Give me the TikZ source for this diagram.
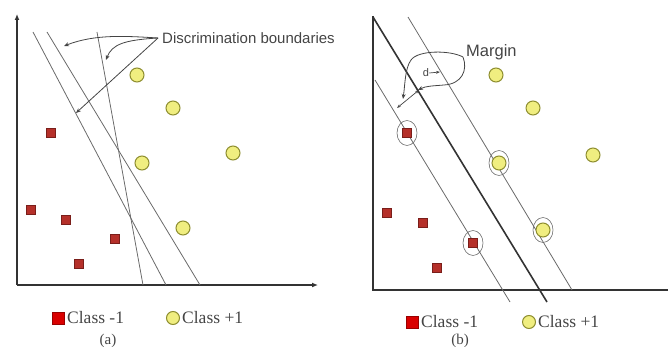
\documentclass[tikz,border=0pt]{standalone}
\usepackage{fontspec}
\setmainfont{Liberation Serif}
\newfontfamily\sansf{Liberation Sans}
\usetikzlibrary{arrows.meta}
\definecolor{sqred}{HTML}{B5302A}
\definecolor{sqedge}{HTML}{7A1E1A}
\definecolor{cyel}{HTML}{F0EE80}
\definecolor{cedge}{HTML}{8E8E30}
\definecolor{lgray}{HTML}{6A6A6A}
\definecolor{txtgray}{HTML}{444444}
\tikzset{
  redpt/.style={draw=sqedge,fill=sqred,line width=0.8pt,minimum size=9pt,inner sep=0pt,rectangle},
  yelpt/.style={draw=cedge,fill=cyel,line width=1pt,circle,minimum size=14pt,inner sep=0pt},
  svring/.style={draw=lgray,line width=0.6pt,ellipse,minimum width=20pt,minimum height=25pt,inner sep=0pt},
  bline/.style={draw=lgray,line width=0.8pt},
  axisline/.style={draw=black!80,line width=1.6pt},
  legred/.style={fill=red!85!black,draw=red!60!black,minimum size=12pt,inner sep=0pt,rectangle},
  legyel/.style={draw=cedge,fill=cyel,line width=1pt,circle,minimum size=13pt,inner sep=0pt},
  legtxt/.style={font=\fontsize{17.5}{19}\selectfont,text=txtgray,inner sep=0pt,anchor=west},
  captxt/.style={font=\fontsize{15}{16}\selectfont,text=txtgray,inner sep=0pt},
  callarrow/.style={draw=txtgray,line width=0.8pt,-{Stealth[length=5pt,width=4pt]}}
}
\usetikzlibrary{shapes.geometric}
\begin{document}
\begin{tikzpicture}[x=1pt,y=-1pt]
\useasboundingbox (0,0) rectangle (668,347);
% ---------- panel (a) ----------
\coordinate (ao) at (17,285);
\coordinate (ay) at (17,14);
\coordinate (ax) at (318,285);
\draw[axisline,-{Latex[length=6pt,width=5pt]}] (ao) -- (ay);
\draw[axisline,-{Latex[length=6pt,width=5pt]}] (ao) -- (ax);
\coordinate (l1a) at (33,32);  \coordinate (l1b) at (166,285);
\coordinate (l2a) at (47,32);  \coordinate (l2b) at (200,285);
\coordinate (l3a) at (97,32);  \coordinate (l3b) at (143,285);
\draw[bline] (l1a) -- (l1b);
\draw[bline] (l2a) -- (l2b);
\draw[bline] (l3a) -- (l3b);
\node[font=\sansf\fontsize{15}{16}\selectfont,text=txtgray,anchor=west,inner sep=0pt] (disc) at (162,38) {Discrimination boundaries};
\coordinate (dstart) at (158,38);
\coordinate (t1) at (64,46);
\coordinate (t2) at (106,60);
\coordinate (t3) at (76,113);
\draw[callarrow] (dstart) .. controls (125,36) and (95,34) .. (t1);
\draw[callarrow] (dstart) .. controls (125,40) and (112,44) .. (t2);
\draw[callarrow] (dstart) -- (t3);
\node[yelpt] (ya1) at (137,75) {};
\node[yelpt] (ya2) at (173,108) {};
\node[yelpt] (ya3) at (233,153) {};
\node[yelpt] (ya4) at (142,163) {};
\node[yelpt] (ya5) at (183,228) {};
\node[redpt] (ra1) at (51,133) {};
\node[redpt] (ra2) at (31,210) {};
\node[redpt] (ra3) at (66,220) {};
\node[redpt] (ra4) at (115,239) {};
\node[redpt] (ra5) at (79,264) {};
\node[legred] (lra) at (58,318) {};
\node[legtxt] (lrat) at (67,318) {Class -1};
\node[legyel] (lya) at (173,318) {};
\node[legtxt] (lyat) at (182,318) {Class +1};
\node[captxt] (capa) at (108,341) {(a)};
% ---------- panel (b) ----------
\coordinate (bo) at (373,290);
\coordinate (by) at (373,16);
\coordinate (bx) at (668,290);
\draw[axisline] (by) -- (bo) -- (bx);
\coordinate (hta) at (373,17);  \coordinate (htb) at (547,302);
\coordinate (hla) at (375,80);  \coordinate (hlb) at (510,302);
\coordinate (hra) at (408,17);  \coordinate (hrb) at (572,290);
\draw[draw=black!80,line width=1.6pt] (hta) -- (htb);
\draw[bline] (hla) -- (hlb);
\draw[bline] (hra) -- (hrb);
\node[font=\sansf\fontsize{16.5}{18}\selectfont,text=txtgray,anchor=west,inner sep=0pt] (marg) at (466,52) {Margin};
% margin dimension arrows
\coordinate (m1) at (397,108);
\coordinate (m2) at (419,90);
\draw[draw=txtgray,line width=0.7pt,{Stealth[length=4pt]}-{Stealth[length=4pt]}] (m1) -- (m2);
\node[font=\sansf\fontsize{11}{12}\selectfont,text=txtgray,inner sep=0pt] (dlab) at (426,73) {d};
\coordinate (dar) at (440,72);
\draw[draw=txtgray,line width=0.7pt,-{Stealth[length=4pt]}] (dlab.east) -- (dar);
% margin callout loop
\coordinate (mc) at (463,57);
\coordinate (mc1) at (403,99);
\coordinate (mc2) at (418,90);
\draw[callarrow] (mc) .. controls (450,50) and (418,50) .. (411,60) .. controls (405,68) and (405,85) .. (mc1);
\draw[callarrow] (mc) .. controls (468,70) and (462,84) .. (444,85) .. controls (432,86) and (426,86) .. (mc2);
\node[yelpt] (yb1) at (496,75) {};
\node[yelpt] (yb2) at (533,108) {};
\node[yelpt] (yb3) at (593,155) {};
\node[yelpt] (yb4) at (499,163) {};
\node[yelpt] (yb5) at (543,230) {};
\node[svring] (sy4) at (499,163) {};
\node[svring] (sy5) at (543,230) {};
\node[redpt] (rb1) at (407,133) {};
\node[redpt] (rb2) at (387,213) {};
\node[redpt] (rb3) at (423,223) {};
\node[redpt] (rb4) at (473,243) {};
\node[redpt] (rb5) at (437,268) {};
\node[svring] (sr1) at (407,133) {};
\node[svring] (sr4) at (473,243) {};
\node[legred] (lrb) at (412,322) {};
\node[legtxt] (lrbt) at (421,322) {Class -1};
\node[legyel] (lyb) at (529,322) {};
\node[legtxt] (lybt) at (538,322) {Class +1};
\node[captxt] (capb) at (460,341) {(b)};
\end{tikzpicture}
\end{document}
